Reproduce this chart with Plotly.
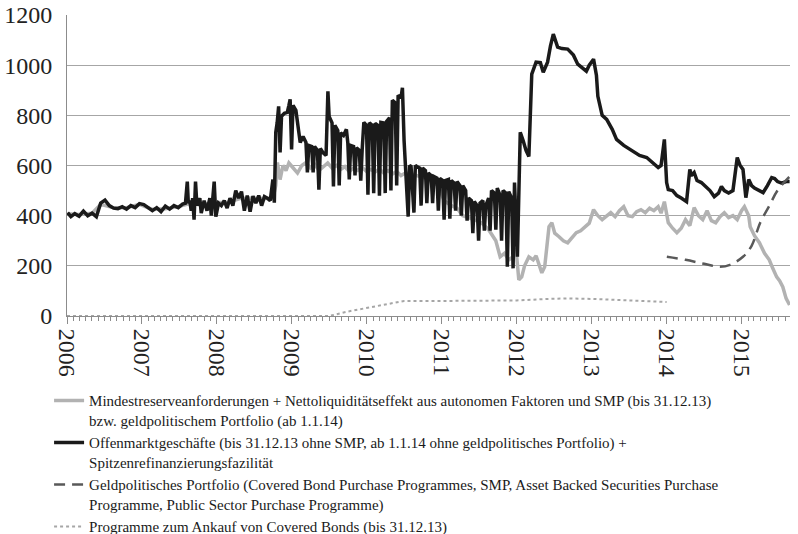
import plotly.graph_objects as go

# --- Offenmarktgeschäfte + Spitzenrefinanzierungsfazilität (black) ---
omo_dates = [
    "2006-01-04","2006-01-20","2006-02-08","2006-03-01","2006-03-22","2006-04-12","2006-05-03","2006-05-24",
    "2006-06-14","2006-07-05","2006-07-26","2006-08-16","2006-09-06","2006-09-27","2006-10-18","2006-11-08",
    "2006-11-29","2006-12-20","2007-01-10","2007-01-31","2007-02-21","2007-03-14","2007-04-04","2007-04-25",
    "2007-05-16","2007-06-06","2007-06-27","2007-07-18","2007-08-01","2007-08-10","2007-08-15","2007-08-22",
    "2007-08-29","2007-09-05","2007-09-12","2007-09-19","2007-09-26","2007-10-10","2007-10-17","2007-10-31",
    "2007-11-14","2007-11-28","2007-12-05","2007-12-19","2007-12-27","2008-01-09","2008-01-23","2008-02-06",
    "2008-02-20","2008-03-05","2008-03-19","2008-04-02","2008-04-16","2008-04-30","2008-05-14","2008-05-28",
    "2008-06-11","2008-06-25","2008-07-09","2008-07-23","2008-08-06","2008-08-20","2008-09-03","2008-09-17",
    "2008-09-30","2008-10-07","2008-10-14","2008-10-21","2008-10-28","2008-11-04","2008-11-11","2008-11-25",
    "2008-12-09","2008-12-17","2008-12-23","2008-12-30","2009-01-06","2009-01-20","2009-02-03","2009-02-10",
    "2009-02-24","2009-03-10","2009-03-17","2009-03-24","2009-04-07","2009-04-14","2009-04-21","2009-05-05",
    "2009-05-12","2009-05-19","2009-06-02","2009-06-16","2009-06-25","2009-07-01","2009-07-15","2009-07-22",
    "2009-07-29","2009-08-12","2009-08-19","2009-08-26","2009-09-09","2009-09-23","2009-09-30","2009-10-07",
    "2009-10-14","2009-10-28","2009-11-04","2009-11-11","2009-11-25","2009-12-02","2009-12-09","2009-12-17",
    "2009-12-30","2010-01-06","2010-01-13","2010-01-27","2010-02-03","2010-02-10","2010-02-24","2010-03-03",
    "2010-03-10","2010-03-24","2010-03-31","2010-04-07","2010-04-21","2010-04-28","2010-05-05","2010-05-19",
    "2010-05-26","2010-06-02","2010-06-16","2010-06-23","2010-07-01","2010-07-07","2010-07-21","2010-07-28",
    "2010-08-04","2010-08-18","2010-08-25","2010-09-01","2010-09-15","2010-09-22","2010-09-29","2010-10-13",
    "2010-10-20","2010-10-27","2010-11-10","2010-11-17","2010-11-24","2010-12-08","2010-12-15","2010-12-22",
    "2011-01-05","2011-01-12","2011-01-19","2011-02-02","2011-02-09","2011-02-16","2011-03-02","2011-03-09",
    "2011-03-16","2011-03-30","2011-04-06","2011-04-13","2011-04-27","2011-05-04","2011-05-11","2011-05-25",
    "2011-06-01","2011-06-08","2011-06-22","2011-06-29","2011-07-06","2011-07-20","2011-07-27","2011-08-03",
    "2011-08-17","2011-08-24","2011-08-31","2011-09-14","2011-09-21","2011-09-28","2011-10-12","2011-10-19",
    "2011-10-26","2011-11-09","2011-11-16","2011-11-23","2011-12-07","2011-12-14","2011-12-21","2012-01-04",
    "2012-01-18","2012-02-01","2012-02-15","2012-02-29","2012-03-14","2012-04-04","2012-04-25","2012-05-09",
    "2012-05-30","2012-06-13","2012-06-27","2012-07-18","2012-08-08","2012-09-05","2012-10-03","2012-10-24",
    "2012-11-14","2012-12-05","2012-12-19","2013-01-09","2013-01-23","2013-01-30","2013-02-20","2013-03-14",
    "2013-04-10","2013-05-01","2013-06-05","2013-07-03","2013-07-24","2013-08-21","2013-09-25","2013-10-23",
    "2013-11-20","2013-12-04","2013-12-20","2013-12-31","2014-01-08","2014-01-29","2014-02-19","2014-03-12",
    "2014-04-07","2014-04-23","2014-04-30","2014-05-14","2014-05-28","2014-06-18","2014-07-09","2014-07-30",
    "2014-08-20","2014-09-10","2014-09-24","2014-10-08","2014-10-29","2014-11-19","2014-12-10","2014-12-24",
    "2015-01-07","2015-01-21","2015-02-04","2015-02-18","2015-03-04","2015-03-25","2015-04-15","2015-05-06",
    "2015-05-27","2015-06-10","2015-06-24","2015-07-15","2015-08-05","2015-08-22",
]
omo_values = [
    412, 396, 408, 398, 418, 400, 410, 396,
    450, 462, 440, 430, 428, 436, 426, 440,
    432, 448, 444, 430, 420, 432, 416, 438,
    426, 440, 432, 446, 450, 536, 450, 460,
    420, 470, 384, 536, 440, 470, 410, 460,
    420, 470, 400, 536, 396, 450, 440, 460,
    430, 470, 440, 500, 470, 496, 420, 480,
    416, 478, 450, 480, 440, 476, 470, 460,
    544, 452, 732, 772, 836, 652, 796, 808,
    812, 840, 864, 664, 840, 820, 732, 692,
    716, 692, 572, 680, 676, 572, 676, 660,
    504, 668, 650, 640, 896, 796, 770, 516,
    760, 740, 520, 730, 720, 744, 690, 544,
    680, 676, 560, 670, 660, 540, 664, 772,
    760, 484, 770, 760, 490, 768, 760, 480,
    772, 770, 490, 776, 790, 500, 860, 850,
    520, 880, 870, 910, 700, 600, 396, 600,
    596, 412, 600, 596, 590, 440, 590, 580,
    450, 570, 560, 450, 556, 550, 420, 548,
    540, 384, 540, 544, 388, 540, 530, 420,
    536, 520, 400, 520, 500, 380, 470, 460,
    330, 456, 440, 300, 450, 460, 340, 440,
    470, 340, 500, 490, 344, 510, 480, 300,
    500, 490, 196, 496, 470, 190, 532, 236,
    732, 700, 660, 636, 964, 1012, 1010, 972,
    1012, 1076, 1124, 1072, 1066, 1064, 1040, 1004,
    990, 976, 1000, 1024, 960, 876, 800, 784,
    744, 704, 680, 664, 656, 640, 632, 612,
    592, 600, 704, 532, 504, 500, 480, 470,
    456, 584, 560, 572, 540, 532, 516, 500,
    476, 490, 516, 500, 490, 500, 632, 600,
    584, 472, 544, 520, 510, 500, 492, 520,
    552, 548, 536, 530, 536, 536,
]

# --- Mindestreserve + Nettoliquiditätseffekt (grey) ---
mrr_dates = [
    "2006-01-04","2006-03-01","2006-05-03","2006-06-14","2006-08-16","2006-10-18","2006-12-20","2007-02-21",
    "2007-04-25","2007-06-27","2007-08-22","2007-10-24","2007-12-19","2008-02-20","2008-04-23","2008-06-25",
    "2008-08-27","2008-10-01","2008-10-14","2008-10-22","2008-11-04","2008-11-18","2008-12-03","2008-12-17",
    "2009-01-07","2009-01-28","2009-02-18","2009-03-11","2009-04-01","2009-04-22","2009-05-13","2009-06-03",
    "2009-06-24","2009-07-15","2009-08-05","2009-08-26","2009-09-16","2009-10-07","2009-10-28","2009-11-18",
    "2009-12-09","2009-12-30","2010-01-20","2010-02-10","2010-03-03","2010-03-24","2010-04-14","2010-05-05",
    "2010-05-26","2010-06-16","2010-07-07","2010-08-04","2010-09-01","2010-10-06","2010-11-03","2010-12-15",
    "2011-01-12","2011-02-16","2011-03-16","2011-04-13","2011-05-18","2011-06-15","2011-07-13","2011-08-17",
    "2011-09-21","2011-10-12","2011-11-02","2011-11-23","2011-12-14","2011-12-28","2012-01-11","2012-01-25",
    "2012-02-08","2012-02-29","2012-03-21","2012-04-04","2012-04-18","2012-05-02","2012-05-16","2012-06-06",
    "2012-06-20","2012-07-04","2012-07-25","2012-08-15","2012-09-05","2012-09-26","2012-10-17","2012-11-07",
    "2012-11-28","2012-12-19","2013-01-09","2013-01-30","2013-02-20","2013-03-13","2013-04-03","2013-04-24",
    "2013-05-15","2013-06-05","2013-06-26","2013-07-17","2013-08-07","2013-08-28","2013-09-18","2013-10-09",
    "2013-10-30","2013-11-20","2013-12-04","2013-12-20","2014-01-08","2014-01-29","2014-02-19","2014-03-12",
    "2014-04-02","2014-04-23","2014-05-14","2014-06-04","2014-06-25","2014-07-16","2014-08-06","2014-08-27",
    "2014-09-17","2014-10-08","2014-10-29","2014-11-19","2014-12-10","2014-12-31","2015-01-14","2015-02-04",
    "2015-02-11","2015-03-04","2015-03-28","2015-04-22","2015-05-15","2015-06-01","2015-06-20","2015-07-05",
    "2015-07-20","2015-08-05","2015-08-22",
]
mrr_values = [
    408, 405, 410, 445, 432, 432, 445, 425,
    428, 436, 448, 445, 452, 452, 468, 470,
    468, 470, 520, 612, 544, 600, 580, 610,
    590, 570, 600, 612, 590, 604, 580, 596,
    610, 590, 600, 584, 596, 576, 590, 580,
    592, 576, 584, 574, 586, 570, 580, 566,
    576, 560, 570, 566, 560, 552, 540, 520,
    460, 440, 430, 400, 390, 380, 372, 344,
    300, 236, 250, 224, 236, 270, 144, 156,
    200, 236, 224, 240, 200, 172, 196, 356,
    372, 330, 316, 300, 292, 310, 332, 340,
    356, 370, 424, 400, 384, 400, 412, 396,
    420, 436, 400, 396, 416, 424, 412, 430,
    420, 436, 410, 456, 372, 350, 332, 350,
    384, 360, 432, 400, 384, 420, 380, 372,
    396, 412, 392, 400, 384, 420, 436, 400,
    356, 320, 292, 250, 224, 190, 156, 140,
    116, 70, 44,
]

# --- Geldpolitisches Portfolio (dashed) ---
port_dates = ["2014-01-01","2014-04-02","2014-07-02","2014-09-17","2014-11-05","2015-01-07","2015-02-18",
              "2015-04-01","2015-05-13","2015-06-24","2015-08-22"]
port_values = [236, 224, 208, 196, 204, 236, 280, 372, 436, 500, 556]

# --- Programme zum Ankauf von Covered Bonds (dotted) ---
cbpp_dates = ["2006-01-01","2009-07-01","2009-10-01","2010-01-01","2010-04-01","2010-07-01","2011-01-01",
              "2011-07-01","2012-01-01","2012-06-01","2012-09-01","2013-01-01","2013-06-01","2013-12-31"]
cbpp_values = [0, 0, 18, 32, 46, 60, 60, 60, 62, 68, 70, 68, 62, 56]

year_ticks = ["2006","2007","2008","2009","2010","2011","2012","2013","2014","2015"]

legend_labels = [
    "Mindestreserveanforderungen + Nettoliquiditätseffekt aus autonomen Faktoren und SMP (bis 31.12.13)<br>bzw. geldpolitischem Portfolio (ab 1.1.14)",
    "Offenmarktgeschäfte (bis 31.12.13 ohne SMP, ab 1.1.14 ohne geldpolitisches Portfolio) +<br>Spitzenrefinanzierungsfazilität",
    "Geldpolitisches Portfolio (Covered Bond Purchase Programmes, SMP, Asset Backed Securities Purchase<br>Programme, Public Sector Purchase Programme)",
    "Programme zum Ankauf von Covered Bonds (bis 31.12.13)",
]

SERIF = "Liberation Serif"

fig = go.Figure()
fig.add_trace(go.Scatter(x=mrr_dates, y=mrr_values, mode="lines", name=legend_labels[0],
                         line=dict(color="#b2b2b2", width=3.5)))
fig.add_trace(go.Scatter(x=omo_dates, y=omo_values, mode="lines", name=legend_labels[1],
                         line=dict(color="#1a1a1a", width=3.5)))
fig.add_trace(go.Scatter(x=port_dates, y=port_values, mode="lines", name=legend_labels[2],
                         line=dict(color="#595959", width=2.5, dash="11px,7px"), line_shape="spline"))
fig.add_trace(go.Scatter(x=cbpp_dates, y=cbpp_values, mode="lines", name=legend_labels[3],
                         line=dict(color="#a6a6a6", width=2, dash="dot")))

fig.update_layout(
    width=798, height=534,
    margin=dict(l=67, r=8, t=15, b=218, autoexpand=False),
    paper_bgcolor="white", plot_bgcolor="white",
    font=dict(family=SERIF, color="#222222"),
    showlegend=True,
    legend=dict(x=0.0615, xref="container", y=0.2805, yref="container",
                xanchor="left", yanchor="top", valign="top",
                font=dict(family=SERIF, size=15, color="#1a1a1a"),
                tracegroupgap=0, bgcolor="rgba(0,0,0,0)"),
)
fig.update_xaxes(
    type="date", range=["2006-01-01", "2015-08-24"], automargin=False,
    tickmode="array", tickvals=[y + "-01-01" for y in year_ticks], ticktext=year_ticks,
    tickangle=90, tickfont=dict(family=SERIF, size=24, color="#222222"),
    ticks="outside", ticklen=7, tickcolor="#8c8c8c", tickwidth=1,
    minor=dict(dtick="M1", tick0="2006-01-01", ticks="outside", ticklen=4, tickcolor="#8c8c8c", showgrid=False),
    showgrid=False, showline=True, linecolor="#8c8c8c", linewidth=1, zeroline=False,
)
fig.update_yaxes(
    range=[0, 1200], dtick=200, tick0=0, automargin=False,
    tickfont=dict(family=SERIF, size=24, color="#222222"),
    showgrid=True, gridcolor="#a6a6a6", gridwidth=1,
    showline=True, linecolor="#8c8c8c", linewidth=1, zeroline=False,
    ticks="", ticklabelstandoff=9,
)

fig.write_html("out.html", config={"displayModeBar": False},
               post_script="document.body.style.margin='0';document.body.style.overflow='hidden';")
